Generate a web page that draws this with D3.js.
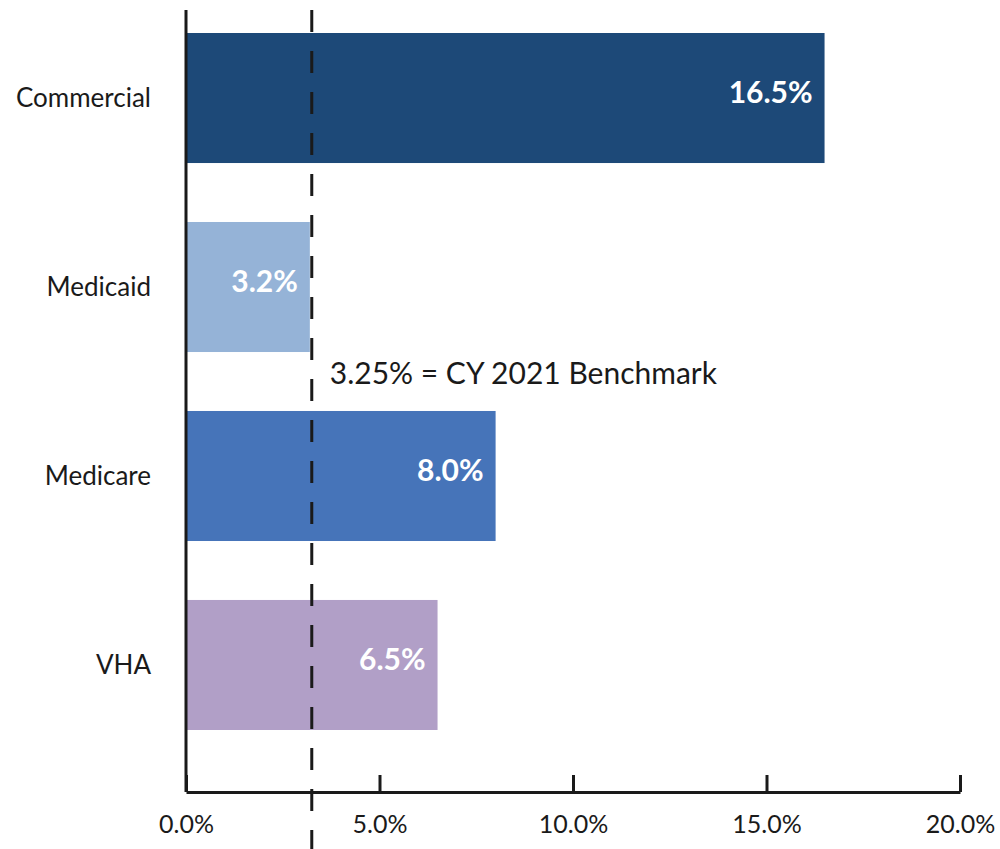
<!DOCTYPE html>
<html>
<head>
<meta charset="utf-8">
<script src="https://cdn.jsdelivr.net/npm/d3@7"></script>
<style>
  body { margin: 0; background: #fff; }
  svg text { font-family: Lato, "Open Sans", sans-serif; }
</style>
</head>
<body>
<div id="chart"></div>
<script>
// data
var categories = ["Commercial", "Medicaid", "Medicare", "VHA"];
var values = [0.165, 0.032, 0.080, 0.065];
var barColors = ["#1d4978", "#95b3d7", "#4674b9", "#b19fc7"];
var tickValues = [0, 0.05, 0.10, 0.15, 0.20];
var benchmark = 0.0325;
var benchmarkLabel = "3.25% = CY 2021 Benchmark";

var w = 1000, h = 849;

var svg = d3.select("#chart")
  .append("svg")
  .attr("width", w)
  .attr("height", h);

var x = d3.scaleLinear()
  .domain([0, 0.20])
  .range([186, 960]);

var y = d3.scaleBand()
  .domain(categories)
  .range([33, 730])
  .paddingInner(0.312)
  .paddingOuter(0);

var axisY = 792;
var fmt = d3.format(".1%");

// bars
svg.selectAll("rect.bar")
  .data(categories)
  .enter()
  .append("rect")
  .attr("class", "bar")
  .attr("x", x(0))
  .attr("y", function(d){ return y(d); })
  .attr("width", function(d, i){ return x(values[i]) - x(0); })
  .attr("height", y.bandwidth())
  .attr("fill", function(d, i){ return barColors[i]; });

// value labels inside bars
svg.selectAll("text.val")
  .data(categories)
  .enter()
  .append("text")
  .attr("class", "val")
  .attr("x", function(d, i){ return x(values[i]) - 12; })
  .attr("y", function(d){ return y(d) + y.bandwidth()/2 - 6; })
  .attr("dy", "0.36em")
  .attr("text-anchor", "end")
  .style("fill", "#fff")
  .style("font-weight", "bold")
  .style("font-size", "30px")
  .text(function(d, i){ return fmt(values[i]); });

// category labels
svg.selectAll("text.cat")
  .data(categories)
  .enter()
  .append("text")
  .attr("class", "cat")
  .attr("x", 151)
  .attr("y", function(d){ return y(d) + y.bandwidth()/2; })
  .attr("dy", "0.36em")
  .attr("text-anchor", "end")
  .style("fill", "#1a1a1a")
  .style("font-size", "26px")
  .text(function(d){ return d; });

// y axis line
svg.append("line")
  .attr("x1", x(0)).attr("x2", x(0))
  .attr("y1", 10).attr("y2", axisY)
  .style("stroke", "#1a1a1a")
  .style("stroke-width", 3);

// x axis (ticks point up)
var xAxis = d3.axisBottom(x)
  .tickValues(tickValues)
  .tickSize(-17)
  .tickSizeOuter(0)
  .tickPadding(0)
  .tickFormat(fmt);

var gx = svg.append("g")
  .attr("transform", "translate(0," + axisY + ")")
  .call(xAxis);

gx.select(".domain")
  .style("stroke", "#1a1a1a")
  .style("stroke-width", 3);
gx.selectAll(".tick line")
  .style("stroke", "#1a1a1a")
  .style("stroke-width", 3);
gx.selectAll(".tick text")
  .attr("y", 41)
  .attr("dy", "0")
  .style("fill", "#1a1a1a")
  .style("font-size", "25px");

// benchmark dashed line
svg.append("line")
  .attr("x1", x(benchmark)).attr("x2", x(benchmark))
  .attr("y1", 10).attr("y2", h)
  .style("stroke", "#1a1a1a")
  .style("stroke-width", 3)
  .style("stroke-dasharray", "22,19");

svg.append("text")
  .attr("x", x(benchmark) + 18)
  .attr("y", 384)
  .style("fill", "#1a1a1a")
  .style("font-size", "30px")
  .text(benchmarkLabel);
</script>
</body>
</html>
